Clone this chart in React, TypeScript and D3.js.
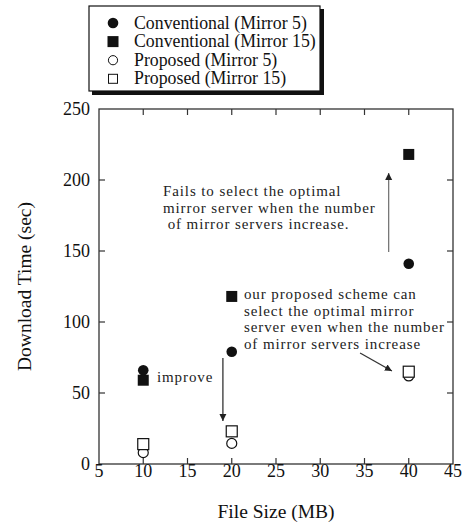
import React from "react";
import * as d3 from "d3";

// file sizes (MB) on the x axis
const fileSizes = [10, 20, 40];

// download times (sec) per series
const convMirror5 = [66, 79, 141];
const convMirror15 = [59, 118, 218];
const propMirror5 = [8, 14.5, 62];
const propMirror15 = [14, 23, 65];

const xTicks = [5, 10, 15, 20, 25, 30, 35, 40, 45];
const yTicks = [0, 50, 100, 150, 200, 250];

const legendLabels = [
  "Conventional (Mirror 5)",
  "Conventional (Mirror 15)",
  "Proposed (Mirror 5)",
  "Proposed (Mirror 15)",
];

// annotation anchors in data units
const failText = [
  "Fails to select the optimal",
  "mirror server when the number",
  " of mirror servers increase.",
];
const failAnchor = { x: 12.23, y: 188.7 };
const proposedText = [
  "our proposed scheme can",
  "select the optimal mirror",
  "server even when the number",
  "of mirror servers increase",
];
const proposedAnchor = { x: 21.38, y: 116.2 };
const improveAnchor = { x: 11.55, y: 57.7 };

const arrows = [
  { x1: 19.0, y1: 74.6, x2: 19.0, y2: 30.3, color: "#333" },
  { x1: 37.73, y1: 149.3, x2: 37.73, y2: 205, color: "#777" },
  { x1: 34.5, y1: 78.2, x2: 38.1, y2: 65.5, color: "#333" },
];

const serif = "'Liberation Serif', 'Times New Roman', serif";

export default function App() {
  const width = 467;
  const height = 526;
  const margin = { left: 99, right: 14, top: 109, bottom: 62 };
  const innerW = width - margin.left - margin.right;
  const innerH = height - margin.top - margin.bottom;

  const x = d3.scaleLinear().domain([5, 45]).range([margin.left, margin.left + innerW]);
  const y = d3.scaleLinear().domain([0, 250]).range([margin.top + innerH, margin.top]);

  const tick = 6;
  const frame = "#333";

  const filledCircle = (cx: number, cy: number, key: string) => (
    <circle key={key} cx={cx} cy={cy} r={5.3} fill="#111" />
  );
  const filledSquare = (cx: number, cy: number, key: string) => (
    <rect key={key} x={cx - 5.5} y={cy - 5.5} width={11} height={11} fill="#111" />
  );
  const openCircle = (cx: number, cy: number, key: string) => (
    <circle key={key} cx={cx} cy={cy} r={5} fill="white" stroke="#111" strokeWidth={1.2} />
  );
  const openSquare = (cx: number, cy: number, key: string) => (
    <rect key={key} x={cx - 5.5} y={cy - 5.5} width={11} height={11} fill="white" stroke="#111" strokeWidth={1.2} />
  );

  const lineH = 16.6;

  return (
    <svg
      width={width}
      height={height}
      style={{ position: "absolute", left: 0, top: 0, display: "block", background: "white" }}
      fontFamily={serif}
    >
      <defs>
        <marker id="ah" viewBox="0 0 10 10" refX="10" refY="5" markerWidth="7" markerHeight="8"
          markerUnits="userSpaceOnUse" orient="auto">
          <path d="M0,0 L10,5 L0,10 z" fill="#222" />
        </marker>
      </defs>

      {/* legend */}
      <rect x={92} y={9} width={232} height={86} fill="#111" />
      <rect x={89} y={6} width={231} height={85} fill="white" stroke="#111" strokeWidth={1.2} />
      {legendLabels.map((label, i) => {
        const cy = 23 + i * 18.6;
        return (
          <g key={label}>
            {i === 0 && filledCircle(113, cy, "m0")}
            {i === 1 && filledSquare(113, cy, "m1")}
            {i === 2 && <circle cx={113} cy={cy} r={4.6} fill="white" stroke="#111" strokeWidth={1} />}
            {i === 3 && <rect x={108.5} y={cy - 4.5} width={9} height={9} fill="white" stroke="#111" strokeWidth={1} />}
            <text x={134} y={cy + 5.5} fontSize={17.8} fill="#111">{label}</text>
          </g>
        );
      })}

      {/* frame */}
      <rect x={margin.left} y={margin.top} width={innerW} height={innerH} fill="none" stroke={frame} strokeWidth={1.3} />

      {/* x ticks */}
      {xTicks.map((t) => (
        <g key={"x" + t}>
          {t > 5 && t < 45 && (
            <>
              <line x1={x(t)} x2={x(t)} y1={y(0)} y2={y(0) - tick} stroke={frame} strokeWidth={1.2} />
              <line x1={x(t)} x2={x(t)} y1={y(250)} y2={y(250) + tick} stroke={frame} strokeWidth={1.2} />
            </>
          )}
          <text x={x(t)} y={y(0) + 13} fontSize={18} textAnchor="middle" fill="#111">{t}</text>
        </g>
      ))}

      {/* y ticks */}
      {yTicks.map((t) => (
        <g key={"y" + t}>
          {t > 0 && t < 250 && (
            <>
              <line x1={x(5)} x2={x(5) + tick} y1={y(t)} y2={y(t)} stroke={frame} strokeWidth={1.2} />
              <line x1={x(45)} x2={x(45) - tick} y1={y(t)} y2={y(t)} stroke={frame} strokeWidth={1.2} />
            </>
          )}
          <text x={x(5) - 9} y={y(t) + 6} fontSize={18} textAnchor="end" fill="#111">{t}</text>
        </g>
      ))}

      {/* axis titles */}
      <text x={(x(5) + x(45)) / 2} y={518} fontSize={19.5} textAnchor="middle" fill="#111">File Size (MB)</text>
      <text transform={`translate(31,${(y(0) + y(250)) / 2}) rotate(-90)`} fontSize={19.5}
        textAnchor="middle" fill="#111">Download Time (sec)</text>

      {/* points */}
      {fileSizes.map((f, i) => filledSquare(x(f), y(convMirror15[i]), "c15" + i))}
      {fileSizes.map((f, i) => filledCircle(x(f), y(convMirror5[i]), "c5" + i))}
      {fileSizes.map((f, i) => openCircle(x(f), y(propMirror5[i]), "p5" + i))}
      {fileSizes.map((f, i) => openSquare(x(f), y(propMirror15[i]), "p15" + i))}

      {/* arrows */}
      {arrows.map((a, i) => (
        <line key={"a" + i} x1={x(a.x1)} y1={y(a.y1)} x2={x(a.x2)} y2={y(a.y2)}
          stroke={a.color} strokeWidth={1.3} markerEnd="url(#ah)" />
      ))}

      {/* annotations */}
      <g fontSize={15} letterSpacing={0.9} fill="#222">
        {failText.map((s, i) => (
          <text key={"f" + i} xmlSpace="preserve" x={x(failAnchor.x)} y={y(failAnchor.y) + i * lineH}>{s}</text>
        ))}
        {proposedText.map((s, i) => (
          <text key={"p" + i} x={x(proposedAnchor.x)} y={y(proposedAnchor.y) + i * lineH}>{s}</text>
        ))}
        <text x={x(improveAnchor.x)} y={y(improveAnchor.y)}>improve</text>
      </g>
    </svg>
  );
}
